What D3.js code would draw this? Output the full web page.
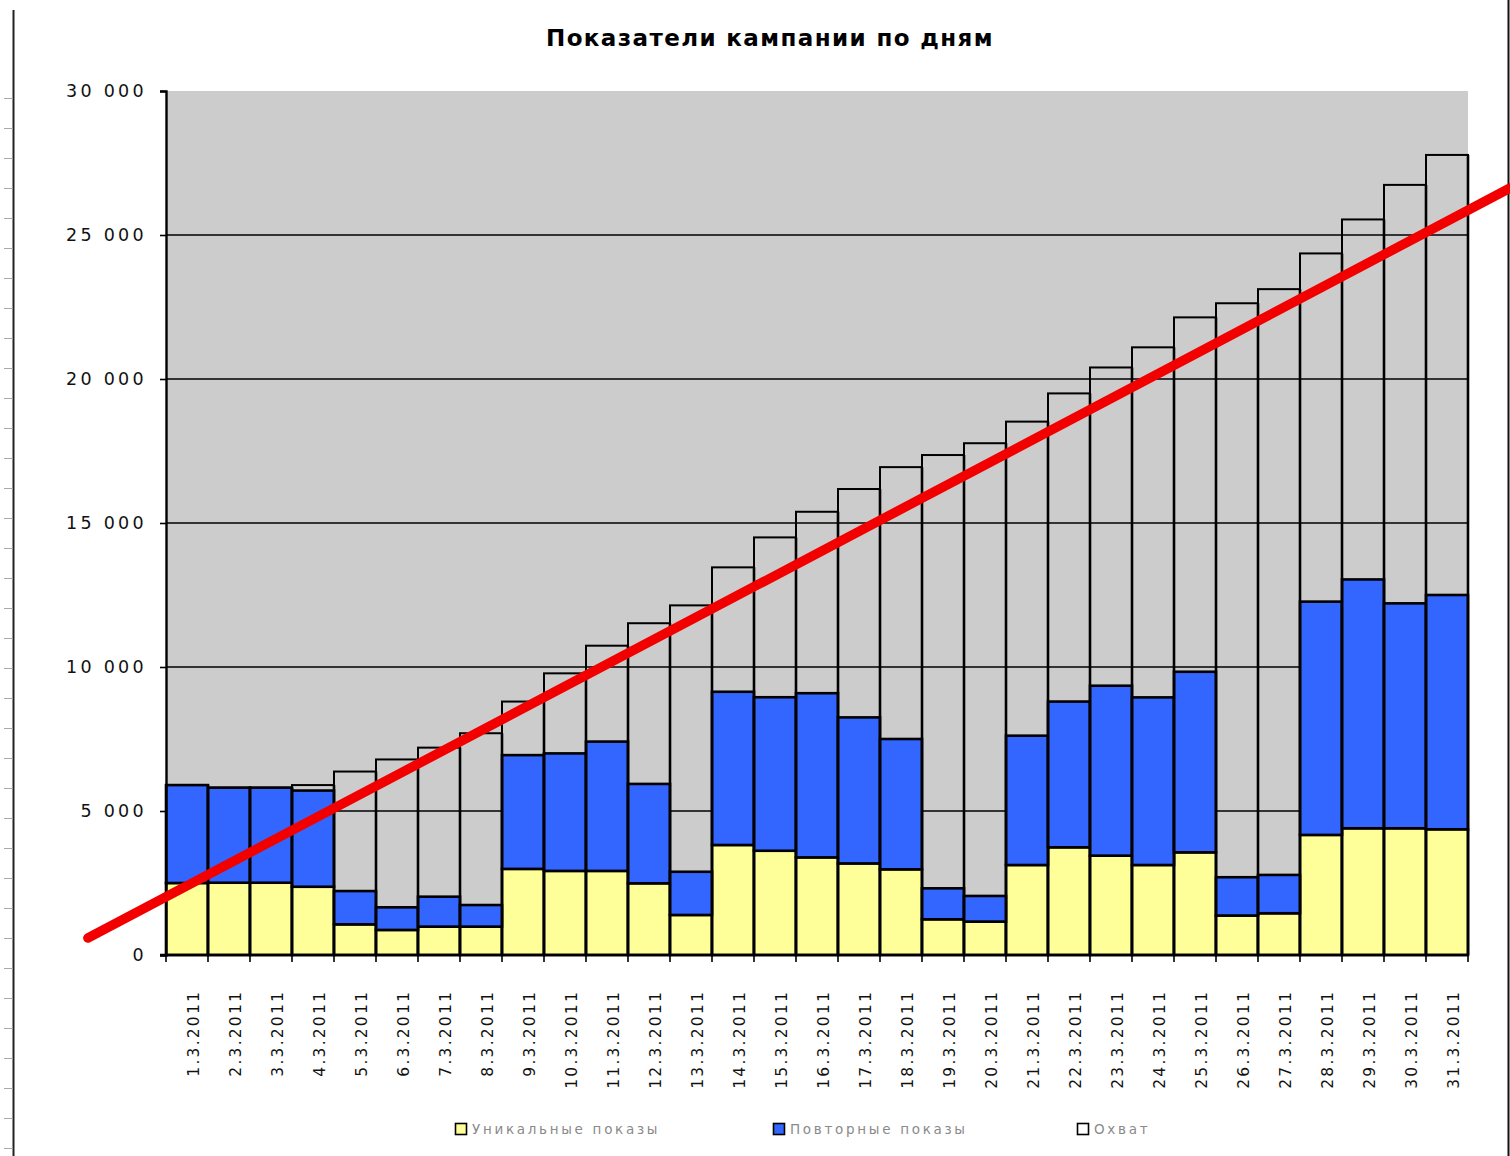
<!DOCTYPE html>
<html>
<head>
<meta charset="utf-8">
<script src="https://cdn.jsdelivr.net/npm/d3@7"></script>
<style>
  html, body { margin: 0; padding: 0; background: #fff; }
  svg { display: block; }
</style>
</head>
<body>
<script>
// Campaign metrics by day, March 2011
const days = [
  "1.3.2011", "2.3.2011", "3.3.2011", "4.3.2011", "5.3.2011", "6.3.2011", "7.3.2011", "8.3.2011",
  "9.3.2011", "10.3.2011", "11.3.2011", "12.3.2011", "13.3.2011", "14.3.2011", "15.3.2011", "16.3.2011",
  "17.3.2011", "18.3.2011", "19.3.2011", "20.3.2011", "21.3.2011", "22.3.2011", "23.3.2011", "24.3.2011",
  "25.3.2011", "26.3.2011", "27.3.2011", "28.3.2011", "29.3.2011", "30.3.2011", "31.3.2011"
];

// Уникальные показы
const uniqueViews = [
  2500, 2510, 2510, 2370, 1065, 870, 985, 985, 2990, 2920, 2920, 2490, 1390, 3820, 3620, 3390,
  3180, 2975, 1240, 1160, 3125, 3740, 3450, 3125, 3565, 1370, 1450, 4170, 4400, 4400, 4365
];

// Повторные показы
const repeatViews = [
  3400, 3300, 3300, 3340, 1155, 785, 1040, 750, 3950, 4080, 4490, 3450, 1500, 5320, 5330, 5700,
  5070, 4525, 1075, 890, 4490, 5060, 5900, 5820, 6270, 1330, 1330, 8100, 8640, 7810, 8135
];

// Охват (cumulative reach)
const reach = [
  5900, 5810, 5810, 5900, 6370, 6790, 7200, 7700, 8800, 9780, 10740, 11520, 12140, 13460, 14500, 15390,
  16180, 16940, 17360, 17770, 18520, 19500, 20400, 21100, 22140, 22630, 23120, 24360, 25540, 26740, 27780
];

// Trend line endpoints: fractional day number and value
const trendDays = [-1.36, 32.5];
const trendValues = [590, 26630];

const yTicks = [0, 5000, 10000, 15000, 20000, 25000, 30000];
const gridValues = [5000, 10000, 15000, 20000, 25000];

const seriesNames = ["Уникальные показы", "Повторные показы", "Охват"];
const title = "Показатели кампании по дням";

const W = 1510, H = 1156;
const plot = { left: 166, right: 1468, top: 91, bottom: 955 };
const colors = { unique: "#ffff99", repeat: "#3366ff", reach: "none", bg: "#cccccc", trend: "#f20000" };

const svg = d3.select("body").append("svg")
  .attr("width", W).attr("height", H)
  .style("font-family", "'DejaVu Sans', Verdana, sans-serif");

const x = d3.scaleBand().domain(days).range([plot.left, plot.right]).padding(0);
const y = d3.scaleLinear().domain([0, 30000]).range([plot.bottom, plot.top]);
const bw = x.bandwidth();
const xDay = d3.scaleLinear()
  .domain([1, days.length])
  .range([x(days[0]) + bw / 2, x(days[days.length - 1]) + bw / 2]);

// Page ruler on the far left
const ruler = svg.append("g");
ruler.append("line")
  .attr("x1", 13.5).attr("x2", 13.5).attr("y1", 10).attr("y2", H)
  .attr("stroke", "#222").attr("stroke-width", 2);
ruler.selectAll("line.rt").data(d3.range(98, H, 30)).join("line")
  .attr("class", "rt")
  .attr("x1", 4).attr("x2", 13).attr("y1", d => d + 0.5).attr("y2", d => d + 0.5)
  .attr("stroke", "#aaa").attr("stroke-width", 1);

// Right frame edge
svg.append("line")
  .attr("x1", W - 1.5).attr("x2", W - 1.5).attr("y1", 0).attr("y2", H)
  .attr("stroke", "#111").attr("stroke-width", 2);

// Title
svg.append("text")
  .attr("x", 770).attr("y", 46)
  .attr("text-anchor", "middle")
  .attr("font-weight", "bold")
  .attr("font-size", 23)
  .attr("letter-spacing", 1.4)
  .attr("fill", "#000")
  .text(title);

// Plot background
svg.append("rect")
  .attr("x", plot.left).attr("y", plot.top)
  .attr("width", plot.right - plot.left).attr("height", plot.bottom - plot.top)
  .attr("fill", colors.bg);

// Horizontal gridlines
svg.append("g").selectAll("line").data(gridValues).join("line")
  .attr("x1", plot.left).attr("x2", plot.right)
  .attr("y1", d => y(d)).attr("y2", d => y(d))
  .attr("stroke", "#000").attr("stroke-width", 1.6);

// Reach bars: outline only, drawn from zero
svg.append("g").selectAll("rect").data(days).join("rect")
  .attr("x", d => x(d)).attr("width", bw)
  .attr("y", (d, i) => y(reach[i]))
  .attr("height", (d, i) => y(0) - y(reach[i]))
  .attr("fill", "none")
  .attr("stroke", "#000").attr("stroke-width", 2);

// Stacked unique + repeat views
const stackData = days.map((d, i) => ({ day: d, unique: uniqueViews[i], repeat: repeatViews[i] }));
const stacked = d3.stack().keys(["unique", "repeat"])(stackData);

svg.append("g").selectAll("g").data(stacked).join("g")
  .attr("fill", s => colors[s.key])
  .selectAll("rect").data(s => s).join("rect")
  .attr("x", d => x(d.data.day)).attr("width", bw)
  .attr("y", d => y(d[1]))
  .attr("height", d => y(d[0]) - y(d[1]))
  .attr("stroke", "#000").attr("stroke-width", 2.6);

// Vertical separators between reach bars, a little heavier than their tops
svg.append("g").selectAll("line").data(days).join("line")
  .attr("x1", d => x(d) + bw).attr("x2", d => x(d) + bw)
  .attr("y1", (d, i) => y(Math.max(reach[i], i + 1 < days.length ? Math.min(reach[i], reach[i + 1]) : reach[i])))
  .attr("y2", plot.bottom)
  .attr("stroke", "#000").attr("stroke-width", 2.6);

// Y axis
const yAxis = svg.append("g")
  .attr("transform", `translate(${plot.left},0)`)
  .call(d3.axisLeft(y).tickValues(yTicks).tickSize(6).tickPadding(13)
    .tickFormat(d => d3.format(",")(d).replace(/,/g, " ")));
yAxis.select(".domain").attr("stroke", "#000").attr("stroke-width", 2.4);
yAxis.selectAll(".tick line").attr("stroke", "#000").attr("stroke-width", 1.6);
yAxis.selectAll(".tick text")
  .attr("font-size", 17.5).attr("letter-spacing", 3.3)
  .attr("fill", "#111")
  .attr("font-family", "'DejaVu Sans', Verdana, sans-serif");

// X axis baseline and boundary ticks
const xg = svg.append("g");
xg.append("line")
  .attr("x1", plot.left - 6).attr("x2", plot.right)
  .attr("y1", plot.bottom).attr("y2", plot.bottom)
  .attr("stroke", "#000").attr("stroke-width", 2.4);
const edges = days.map(d => x(d)).concat([x(days[days.length - 1]) + bw]);
xg.selectAll("line.xt").data(edges).join("line")
  .attr("class", "xt")
  .attr("x1", d => d).attr("x2", d => d)
  .attr("y1", plot.bottom).attr("y2", plot.bottom + 7)
  .attr("stroke", "#000").attr("stroke-width", 1.6);

// Rotated date labels
xg.selectAll("text").data(days).join("text")
  .attr("transform", d => `translate(${x(d) + bw / 2 + 6},${plot.bottom + 35}) rotate(-90)`)
  .attr("text-anchor", "end")
  .attr("dy", "0.36em")
  .attr("font-size", 15.5)
  .attr("letter-spacing", 2.2)
  .attr("fill", "#111")
  .text(d => d);

// Trend line
const trend = trendDays.map((d, i) => ({ day: d, value: trendValues[i] }));
svg.append("path")
  .datum(trend)
  .attr("d", d3.line().x(d => xDay(d.day)).y(d => y(d.value)))
  .attr("fill", "none")
  .attr("stroke", colors.trend)
  .attr("stroke-width", 9.5)
  .attr("stroke-linecap", "round");

// Legend
const legendX = [455, 773, 1077];
const legendFill = [colors.unique, colors.repeat, "#ffffff"];
const lg = svg.append("g").selectAll("g").data(seriesNames).join("g")
  .attr("transform", (d, i) => `translate(${legendX[i]},1129)`);
lg.append("rect")
  .attr("x", 0.5).attr("y", -5.5).attr("width", 11).attr("height", 11)
  .attr("fill", (d, i) => legendFill[i])
  .attr("stroke", "#000").attr("stroke-width", 1.6);
lg.append("text")
  .attr("x", 17).attr("dy", "0.36em")
  .attr("font-size", 13.5).attr("letter-spacing", 2.7)
  .attr("fill", "#8a8a8a")
  .text(d => d);
</script>
</body>
</html>
